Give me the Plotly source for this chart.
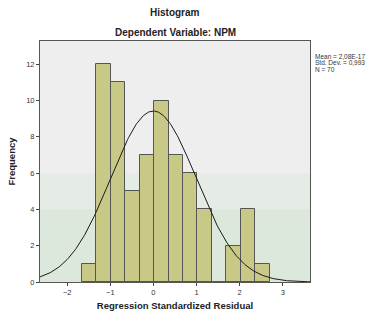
import numpy as np
import plotly.graph_objects as go

# Histogram bins (standardized residuals) and counts
bin_start = -1.66
bin_width = 0.335
counts = [1, 12, 11, 5, 7, 10, 7, 6, 4, 0, 2, 4, 1]

mean_val = 2.08e-17
std_val = 0.993
n_val = 70
stats_lines = ["Mean = 2,08E-17", "Std. Dev. = 0,993", "N = 70"]

x_ticks = [-2, -1, 0, 1, 2, 3]
y_ticks = [0, 2, 4, 6, 8, 10, 12]

centers = [bin_start + bin_width * (i + 0.5) for i in range(len(counts))]

# fitted normal curve from the stated mean / std. dev. / N
xs = np.linspace(-2.63, 3.63, 300)
ys = n_val * bin_width / (std_val * np.sqrt(2 * np.pi)) * np.exp(-0.5 * ((xs - mean_val) / std_val) ** 2)

fig = go.Figure()
fig.add_trace(go.Bar(
    x=centers, y=counts, width=bin_width,
    marker=dict(color="#c9c987", line=dict(color="#555555", width=1)),
    hoverinfo="skip",
))
fig.add_trace(go.Scatter(
    x=xs, y=ys, mode="lines",
    line=dict(color="#1a1a1a", width=1),
    hoverinfo="skip",
))

font_family = "Liberation Sans, Arial, sans-serif"
L, R, T, B = 37, 59, 41, 32
W, H = 369, 322
plot_w = W - L - R
plot_h = H - T - B

fig.update_layout(
    width=W, height=H,
    margin=dict(l=L, r=R, t=T, b=B),
    paper_bgcolor="white",
    plot_bgcolor="#eeeeee",
    showlegend=False,
    bargap=0,
    font=dict(family=font_family, size=8, color="#333333"),
    xaxis=dict(
        range=[-2.63, 3.63], tickvals=x_ticks, ticks="outside", ticklen=3,
        tickcolor="#444444", showgrid=False, zeroline=False,
        showline=True, linecolor="#555555", mirror=True, linewidth=1,
        tickfont=dict(size=7.5, color="#333333"),
        title=dict(text="<b>Regression Standardized Residual</b>",
                   font=dict(size=9.5, color="#222222"), standoff=6),
    ),
    yaxis=dict(
        range=[0, 13.28], tickvals=y_ticks, ticks="outside", ticklen=3,
        tickcolor="#444444", showgrid=False, zeroline=False,
        showline=True, linecolor="#555555", mirror=True, linewidth=1,
        tickfont=dict(size=7.5, color="#333333"),
        title=dict(text="<b>Frequency</b>", font=dict(size=9.5, color="#222222"), standoff=8),
    ),
    shapes=[
        dict(type="rect", xref="paper", yref="y", x0=0, x1=1, y0=0, y1=6,
             fillcolor="rgba(205,228,205,0.25)", line=dict(width=0), layer="below"),
        dict(type="rect", xref="paper", yref="y", x0=0, x1=1, y0=0, y1=4,
             fillcolor="rgba(200,225,200,0.35)", line=dict(width=0), layer="below"),
    ],
)

fig.add_annotation(text="<b>Histogram</b>", xref="paper", yref="paper",
                   x=0.5, y=1 + (T - 12) / plot_h, xanchor="center", yanchor="middle",
                   showarrow=False, font=dict(size=10, color="#222222"))
fig.add_annotation(text="<b>Dependent Variable: NPM</b>", xref="paper", yref="paper",
                   x=0.5, y=1 + (T - 32) / plot_h, xanchor="center", yanchor="middle",
                   showarrow=False, font=dict(size=10, color="#222222"))
for i, line in enumerate(stats_lines):
    fig.add_annotation(text=line, xref="paper", yref="paper",
                       x=1 + 3 / plot_w, y=1 - (57 + 6.5 * i - T) / plot_h,
                       xanchor="left", yanchor="middle", align="left", showarrow=False,
                       font=dict(size=6.5, color="#333333"))

fig.write_html("out.html")
